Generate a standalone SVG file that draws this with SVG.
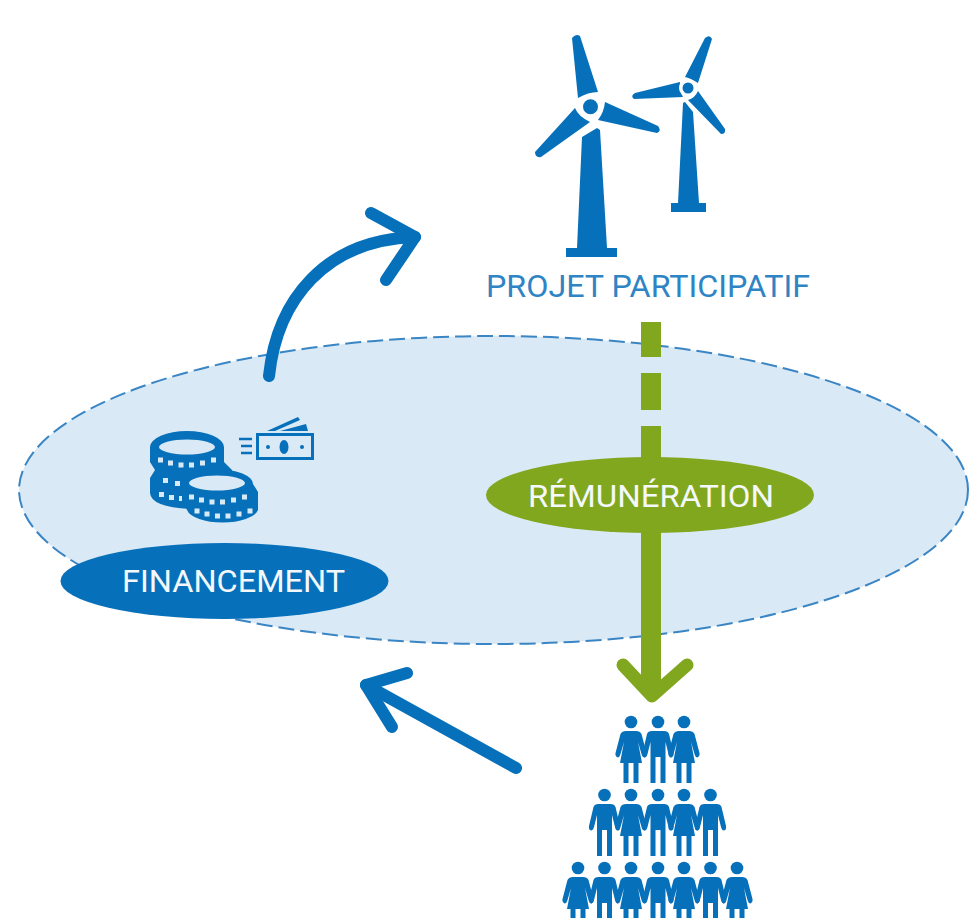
<svg xmlns="http://www.w3.org/2000/svg" xmlns:xlink="http://www.w3.org/1999/xlink" width="976" height="918" viewBox="0 0 976 918">
<style>
.b{fill:#0670ba}
.l{font-family:"Roboto","Liberation Sans",sans-serif;font-size:32px;text-anchor:middle}
.w{fill:#f4f8fb}
.a{fill:none;stroke:#0670ba;stroke-width:12;stroke-linecap:round;stroke-linejoin:round}
.g{fill:none;stroke:#80a71d}
.hole{fill:#dae9f6}
.dot{fill:#dae9f6}
.gap{fill:#fff}
</style>
<defs>
<g id="man" class="b">
<circle cx="0" cy="0" r="6.300"/>
<path d="M-6 9H6Q10 9 11 12L15.500 31Q16 35 13.500 35.500Q11.500 35.500 10.500 32L7.500 20V61H2.500V35H-2.500V61H-7.500V20L-10.500 32Q-11.500 35.500 -13.500 35.500Q-16 35 -15.500 31L-11 12Q-10 9 -6 9Z"/>
</g>
<g id="woman" class="b">
<circle cx="0" cy="0" r="6.300"/>
<path d="M-5 9H5Q9 9 10.500 12L15.500 31Q16 35 13.500 35.500Q11.500 35.500 10.500 32L7 20L11 41H7.500V61H2.500V41H-2.500V61H-7.500V41H-11L-7 20L-10.500 32Q-11.500 35.500 -13.500 35.500Q-16 35 -15.500 31L-10.500 12Q-9 9 -5 9Z"/>
</g>
<g id="dots" class="dot">
<rect x="-28.500" y="-5.500" width="5" height="5"/><rect x="-18.500" y="-2.500" width="5" height="5"/><rect x="-8" y="-0.500" width="5" height="5"/><rect x="2.500" y="-0.500" width="5" height="5"/><rect x="13.500" y="-2.500" width="5" height="5"/><rect x="24.500" y="-5.500" width="5" height="5"/>
</g>
</defs>
<g id="zone">
<ellipse cx="493.500" cy="490" rx="474.500" ry="154" fill="#dae9f6" stroke="#3a85c4" stroke-width="2" stroke-dasharray="16 6"/>
</g>
<g id="connectors">
<path class="a" d="M269 376C277 300 325 240 415 237"/>
<path class="a" d="M371 213L415 237L386 280"/>
<path class="a" d="M516 768L366 685"/>
<path class="a" d="M392 727L366 685L407 673"/>
<path class="g" stroke-width="20" d="M651 322V357M651 373V410M651 426V460"/>
<path class="g" stroke-width="20" d="M651 530V692"/>
<path class="g" stroke-width="13" stroke-linecap="round" stroke-linejoin="round" d="M623 665L652 696L687 665"/>
</g>
<g id="turbines" class="b">
<path d="M572 38Q576 33 580 36L598 92Q588 92 578 98Z"/>
<path d="M605 102L658 126Q662 131 657 133L598 120Q604 112 605 102Z"/>
<path d="M575 108Q578 116 590 122L541 157Q535 158 535 152Z"/>
<path d="M582 137L597 128L600 130L607 248H617V257H566V248H577Z"/>
<circle class="gap" cx="590.500" cy="106.700" r="12.500"/>
<circle cx="590.500" cy="106.700" r="7.500"/>
<path d="M685 77L705 38Q710 34 712 39L698 83Q690 78 685 77Z"/>
<path d="M680 82L635 93Q630 96 634 99L683 97Q679 90 680 82Z"/>
<path d="M698 91L725 129Q726 134 721 134L688 100Q695 98 698 91Z"/>
<path d="M683 103L685 102L693 112L699 203H706V212H671V203H678Z"/>
<circle class="gap" cx="688" cy="88" r="9"/>
<circle cx="688" cy="88" r="5.500"/>
</g>
<g id="projet">
<text class="l" x="648" y="297" fill="#2e84c4" textLength="324" lengthAdjust="spacingAndGlyphs">PROJET PARTICIPATIF</text>
</g>
<g id="money" class="b">
<path d="M150 447A37 16 0 0 1 224 447V462L232 470V490L190 509Q151 507 150 493V478L155 470L150 462Z"/>
<path d="M181 484A36 15 0 0 1 253 484L258 492V510A36 15 0 0 1 187 510L182 500Z"/>
<ellipse class="hole" cx="187" cy="447" rx="28" ry="7.500"/>
<ellipse class="hole" cx="217" cy="483" rx="28" ry="7.500"/>
<use xlink:href="#dots" x="186.500" y="463"/>
<use xlink:href="#dots" x="217.500" y="500"/>
<use xlink:href="#dots" x="223" y="514"/>
<rect class="dot" x="163" y="478" width="5" height="5"/><rect class="dot" x="175" y="481" width="5" height="5"/>
<rect class="dot" x="159" y="492" width="5" height="5"/><rect class="dot" x="169" y="495" width="5" height="5"/><rect class="dot" x="179" y="496" width="3" height="5"/>
<rect x="257.500" y="434.500" width="55" height="24" fill="none" stroke="#0670ba" stroke-width="3"/>
<ellipse cx="284" cy="447" rx="4.500" ry="7"/>
<circle cx="268" cy="447" r="2"/><circle cx="302" cy="447" r="2"/>
<path d="M267 431L298 417L300 420L275 431ZM280 431L306 424L308 431Z"/>
<path d="M239 439H252M241 446H252M241 453H252" fill="none" stroke="#0670ba" stroke-width="2.500"/>
</g>
<g id="financement">
<ellipse class="b" cx="224.500" cy="581" rx="164" ry="38"/>
<text class="l w" x="233.500" y="592" textLength="223" lengthAdjust="spacingAndGlyphs">FINANCEMENT</text>
</g>
<g id="remuneration">
<ellipse cx="650" cy="495" rx="164" ry="38" fill="#80a71d"/>
<text class="l w" x="651" y="507" textLength="246" lengthAdjust="spacingAndGlyphs">RÉMUNÉRATION</text>
</g>
<g id="people">
<use xlink:href="#woman" x="631" y="722"/><use xlink:href="#man" x="658" y="722"/><use xlink:href="#woman" x="684" y="722"/>
<use xlink:href="#man" x="604.500" y="795"/><use xlink:href="#woman" x="631" y="795"/><use xlink:href="#man" x="658" y="795"/><use xlink:href="#woman" x="684" y="795"/><use xlink:href="#man" x="710.500" y="795"/>
<use xlink:href="#woman" x="578" y="868"/><use xlink:href="#man" x="604.500" y="868"/><use xlink:href="#woman" x="631" y="868"/><use xlink:href="#man" x="658" y="868"/><use xlink:href="#woman" x="684" y="868"/><use xlink:href="#man" x="710.500" y="868"/><use xlink:href="#woman" x="737" y="868"/>
</g>
</svg>
